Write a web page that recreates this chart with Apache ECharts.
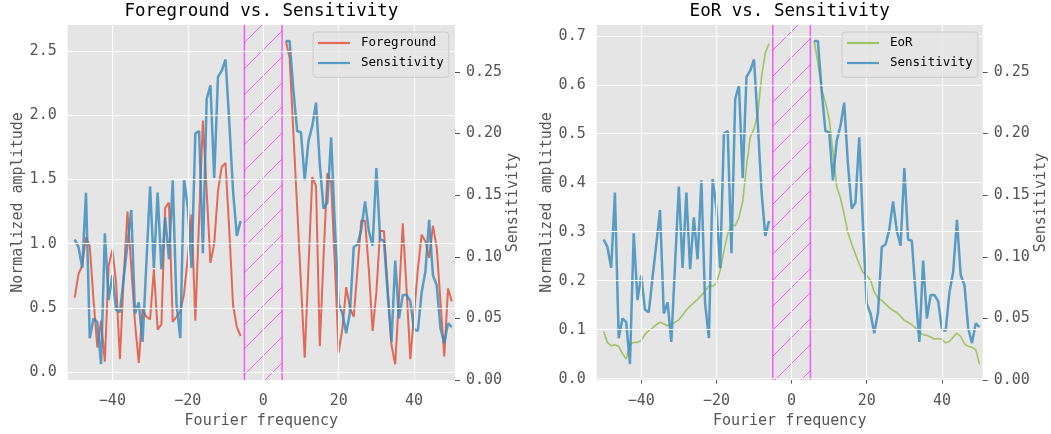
<!DOCTYPE html>
<html><head><meta charset="utf-8">
<script src="https://cdn.jsdelivr.net/npm/echarts@6/dist/echarts.min.js"></script>
<style>html,body{margin:0;padding:0;background:#fff;}#c{width:1051px;height:434px;}</style>
</head><body><div id="c"></div>
<script>
// ---- data ----
const xLeft = [-50,-49,-48,-47,-46,-45,-44,-43,-42,-41,-40,-39,-38,-37,-36,-35,-34,-33,-32,-31,-30,-29,-28,-27,-26,-25,-24,-23,-22,-21,-20,-19,-18,-17,-16,-15,-14,-13,-12,-11,-10,-9,-8,-7,-6];
const xRight = [6,7,8,9,10,11,12,13,14,15,16,17,18,19,20,21,22,23,24,25,26,27,28,29,30,31,32,33,34,35,36,37,38,39,40,41,42,43,44,45,46,47,48,49,50];

const foregroundLeft = [0.58,0.76,0.83,1.05,0.98,0.56,0.19,0.40,0.08,0.83,0.95,0.69,0.10,0.74,1.25,0.82,0.38,0.07,0.49,0.43,0.41,0.80,0.33,0.37,1.28,1.32,0.39,0.43,0.47,0.61,0.89,1.23,0.40,1.20,1.96,1.41,0.85,1.00,1.41,1.60,1.63,1.10,0.52,0.35,0.28];
const foregroundRight = [2.58,2.45,1.86,1.28,0.69,0.11,0.82,1.52,1.45,0.20,0.90,1.55,1.48,0.83,0.15,0.34,0.66,0.50,0.43,0.80,1.18,1.18,0.80,0.32,0.62,1.10,1.10,0.66,0.21,0.06,0.58,1.16,0.65,0.10,0.45,0.80,1.07,1.02,0.89,1.14,0.97,0.55,0.12,0.65,0.55];

const sensitivityLeft = [0.114,0.108,0.091,0.152,0.034,0.050,0.047,0.013,0.119,0.065,0.085,0.057,0.055,0.083,0.110,0.138,0.054,0.063,0.031,0.094,0.157,0.091,0.152,0.090,0.132,0.098,0.162,0.062,0.034,0.163,0.140,0.091,0.200,0.202,0.103,0.228,0.239,0.164,0.246,0.251,0.260,0.209,0.153,0.117,0.129];
const sensitivityRight = [0.275,0.275,0.235,0.202,0.201,0.162,0.194,0.206,0.225,0.175,0.139,0.144,0.197,0.125,0.062,0.054,0.038,0.055,0.108,0.110,0.122,0.145,0.121,0.109,0.172,0.114,0.113,0.070,0.031,0.097,0.050,0.069,0.069,0.064,0.041,0.040,0.071,0.088,0.130,0.085,0.077,0.042,0.030,0.046,0.043];

const eorLeft = [0.096,0.074,0.067,0.069,0.066,0.051,0.040,0.069,0.074,0.074,0.078,0.090,0.098,0.103,0.110,0.115,0.112,0.108,0.110,0.115,0.120,0.130,0.140,0.148,0.155,0.162,0.170,0.179,0.189,0.189,0.194,0.221,0.261,0.295,0.314,0.312,0.329,0.362,0.433,0.493,0.510,0.540,0.615,0.665,0.684];
const eorRight = [0.690,0.645,0.591,0.564,0.530,0.463,0.392,0.369,0.335,0.298,0.275,0.254,0.234,0.217,0.211,0.201,0.177,0.164,0.160,0.152,0.145,0.139,0.135,0.127,0.119,0.115,0.110,0.103,0.094,0.090,0.088,0.085,0.081,0.082,0.080,0.073,0.076,0.085,0.093,0.086,0.071,0.066,0.064,0.059,0.029];

const xTicks = [-40,-20,0,20,40];
const foregroundTicks = [0,0.5,1,1.5,2,2.5];
const sensitivityTicks = [0,0.05,0.1,0.15,0.2,0.25];
const eorTicks = [0,0.1,0.2,0.3,0.4,0.5,0.6,0.7];
const spanRange = [-5,5];

// ---- styling ----
const FONT = 'DejaVu Sans Mono';
const C_RED = 'rgba(226,74,51,0.8)';
const C_BLUE = 'rgba(52,138,189,0.8)';
const C_GREEN = 'rgba(142,186,66,0.8)';
const C_MAG = 'rgba(255,0,255,0.6)';
const HATCH_STEP = 25.5, HATCH_PHASE = 7.1;

const pairs = (xs, ys) => xs.map((x, i) => [x, ys[i]]);
const minusFmt = v => (v < 0 ? '\u2212' : '') + Math.abs(v);

function xAxis(gi){
  return {type:'value', gridIndex:gi, min:-51.85, max:50.85,
    name:'Fourier frequency', nameLocation:'middle', nameGap:30,
    nameTextStyle:{color:'#555', fontSize:15, fontFamily:FONT},
    axisLine:{show:false}, splitLine:{show:false},
    axisTick:{show:true, length:5, customValues:xTicks, lineStyle:{color:'#555', width:1}},
    axisLabel:{customValues:xTicks, margin:14, color:'#555', fontSize:15, fontFamily:FONT, formatter:minusFmt}};
}
function yAxis(gi, pos, min, max, ticks, dec, name, gap){
  return {type:'value', gridIndex:gi, position:pos, min:min, max:max,
    name:name, nameLocation:'middle', nameGap:gap, nameRotate:90,
    nameTextStyle:{color:'#555', fontSize:15, fontFamily:FONT},
    axisLine:{show:false}, splitLine:{show:false},
    axisTick:{show:true, length:5, customValues:ticks, lineStyle:{color:'#555', width:1}},
    axisLabel:{customValues:ticks, margin:11, color:'#555', fontSize:15, fontFamily:FONT, formatter:v => v.toFixed(dec)}};
}
function gridLines(xi, yi, yTicks){
  return {type:'line', name:'_grid'+xi, xAxisIndex:xi, yAxisIndex:yi, data:[], z:1, silent:true, animation:false,
    markLine:{symbol:'none', silent:true, animation:false, label:{show:false}, emphasis:{disabled:true},
      lineStyle:{color:'#ffffff', width:1, type:'solid', opacity:1},
      data: xTicks.map(v => ({xAxis:v})).concat(yTicks.map(v => ({yAxis:v})))}};
}
function spanSeries(xi, yi){
  return {type:'custom', name:'_span'+xi, xAxisIndex:xi, yAxisIndex:yi, z:2, silent:true, animation:false,
    encode:{x:[0,1]}, data:[spanRange],
    renderItem(params, api){
      const cs = params.coordSys;
      const xa0 = api.coord([api.value(0), 0])[0], xa1 = api.coord([api.value(1), 0])[0];
      const y0 = cs.y, y1 = cs.y + cs.height;
      const children = [];
      let n = Math.ceil((xa0 + y0 - HATCH_PHASE) / HATCH_STEP) - 1;
      for (;; n++) {
        const k = 2 * Math.round((HATCH_PHASE + n * HATCH_STEP - 1) / 2) + 1;
        if (k > xa1 + y1) break;
        const a = Math.max(xa0, k - y1), b = Math.min(xa1, k - y0);
        if (b > a) children.push({type:'line', shape:{x1:a, y1:k - a, x2:b, y2:k - b}, style:{stroke:C_MAG, lineWidth:1}});
      }
      [xa0, xa1].forEach(x => children.push({type:'line', shape:{x1:x, y1:y0, x2:x, y2:y1}, style:{stroke:C_MAG, lineWidth:1.5}}));
      return {type:'group', children:children};
    }};
}
function lineSeries(name, xi, yi, xs, ys, color, width, z){
  return {type:'line', name:name, xAxisIndex:xi, yAxisIndex:yi, data:pairs(xs, ys), z:z,
    symbol:'none', showSymbol:false, silent:true, animation:false,
    lineStyle:{color:color, width:width}, itemStyle:{color:color}, emphasis:{disabled:true}};
}
function legend(names, left){
  return {data:names, orient:'vertical', left:left, top:32, z:10, selectedMode:false,
    icon:'rect', padding:[3.5,5,6.8,5], itemGap:5, itemWidth:32, itemHeight:2.2,
    backgroundColor:'rgba(229,229,229,0.8)', borderColor:'#cccccc', borderWidth:1, borderRadius:3,
    textStyle:{fontFamily:FONT, fontSize:12.5, lineHeight:15, color:'#000', padding:[0,0,0,6]}};
}

const chart = echarts.init(document.getElementById('c'), null, {renderer:'canvas', devicePixelRatio:1});
chart.setOption({
  animation:false,
  backgroundColor:'#ffffff',
  title:[
    {text:'Foreground vs. Sensitivity', left:261.4, top:2.5, textAlign:'center', padding:0,
     textStyle:{fontFamily:FONT, fontSize:17.5, fontWeight:'normal', color:'#000'}},
    {text:'EoR vs. Sensitivity', left:789.7, top:2.5, textAlign:'center', padding:0,
     textStyle:{fontFamily:FONT, fontSize:17.5, fontWeight:'normal', color:'#000'}}
  ],
  grid:[
    {left:67.7, top:25, width:387.3, height:359, show:true, backgroundColor:'#E5E5E5', borderWidth:0},
    {left:596.7, top:25, width:386, height:359, show:true, backgroundColor:'#E5E5E5', borderWidth:0}
  ],
  legend:[ legend(['Foreground','Sensitivity'], 313), legend(['EoR','Sensitivity'], 842) ],
  xAxis:[ xAxis(0), xAxis(1) ],
  yAxis:[
    yAxis(0, 'left', -0.064, 2.706, foregroundTicks, 1, 'Normalized amplitude', 41),
    yAxis(0, 'right', 0, 0.288, sensitivityTicks, 2, 'Sensitivity', 50),
    yAxis(1, 'left', -0.003, 0.722, eorTicks, 1, 'Normalized amplitude', 41),
    yAxis(1, 'right', 0, 0.288, sensitivityTicks, 2, 'Sensitivity', 50)
  ],
  series:[
    gridLines(0, 0, foregroundTicks),
    gridLines(1, 2, eorTicks),
    spanSeries(0, 0),
    spanSeries(1, 2),
    lineSeries('Foreground', 0, 0, xLeft, foregroundLeft, C_RED, 2, 3),
    lineSeries('Foreground', 0, 0, xRight, foregroundRight, C_RED, 2, 3),
    lineSeries('Sensitivity', 0, 1, xLeft, sensitivityLeft, C_BLUE, 2.5, 4),
    lineSeries('Sensitivity', 0, 1, xRight, sensitivityRight, C_BLUE, 2.5, 4),
    lineSeries('EoR', 1, 2, xLeft, eorLeft, C_GREEN, 1.6, 3),
    lineSeries('EoR', 1, 2, xRight, eorRight, C_GREEN, 1.6, 3),
    lineSeries('Sensitivity', 1, 3, xLeft, sensitivityLeft, C_BLUE, 2.5, 4),
    lineSeries('Sensitivity', 1, 3, xRight, sensitivityRight, C_BLUE, 2.5, 4)
  ]
});
</script>
</body></html>
